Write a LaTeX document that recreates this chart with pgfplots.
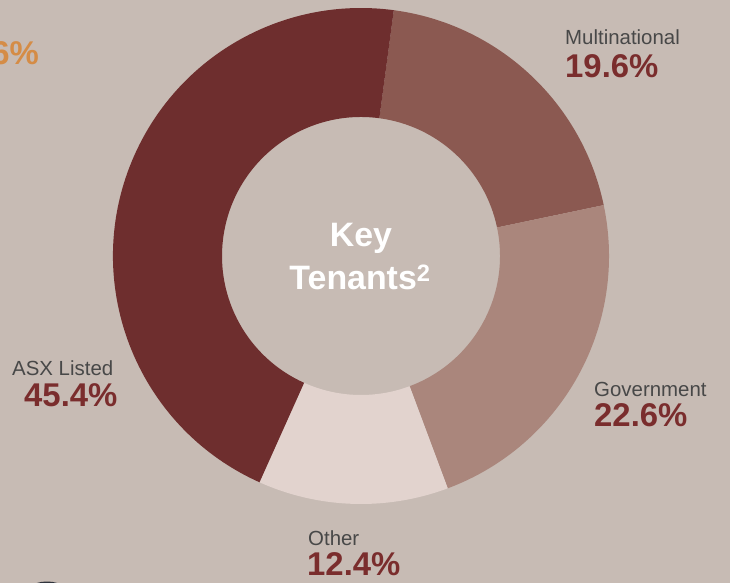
\documentclass[border=0pt]{standalone}
\usepackage{pgfplots}
\pgfplotsset{compat=1.18}
\usetikzlibrary{calc}
\usepackage{fontspec}
\setmainfont{Liberation Sans}

\definecolor{bg}{RGB}{199,187,180}
\definecolor{asx}{RGB}{110,46,46}
\definecolor{multi}{RGB}{139,89,81}
\definecolor{gov}{RGB}{170,134,124}
\definecolor{other}{RGB}{226,211,206}
\definecolor{lbl}{RGB}{72,72,72}
\definecolor{pct}{RGB}{122,45,45}
\definecolor{orng}{RGB}{213,140,70}
\definecolor{edge}{RGB}{48,52,60}

% shares in per cent, clockwise from the top
\def\pMulti{19.6}
\def\pGov{22.6}
\def\pOther{12.4}
\def\pAsx{45.4}

\newcommand{\lab}[1]{\fontsize{20.5}{24}\selectfont\color{lbl}#1}
\newcommand{\num}[1]{\fontsize{33}{38}\selectfont\bfseries\color{pct}#1}

\begin{document}
\begin{tikzpicture}
\fill[bg] (0,0) rectangle (730bp,583bp);

% cumulative angles (maths convention, going clockwise)
\pgfmathsetmacro{\aA}{90-7.6}
\pgfmathsetmacro{\aB}{\aA-3.6*\pMulti}
\pgfmathsetmacro{\aC}{\aB-3.6*\pGov}
\pgfmathsetmacro{\aD}{\aC-3.6*\pOther}
\pgfmathsetmacro{\aE}{\aD-3.6*\pAsx}
\def\R{248bp}
\def\r{139bp}

\begin{axis}[
    scale only axis,
    width=730bp, height=583bp,
    xmin=0, xmax=730, ymin=0, ymax=583,
    hide axis, clip=false,
]
\fill[multi] (axis cs:361,327) ++(\aA:\R) arc[start angle=\aA, end angle=\aB, radius=\R]
    -- ($(axis cs:361,327)+(\aB:\r)$) arc[start angle=\aB, end angle=\aA, radius=\r] -- cycle;
\fill[gov] (axis cs:361,327) ++(\aB:\R) arc[start angle=\aB, end angle=\aC, radius=\R]
    -- ($(axis cs:361,327)+(\aC:\r)$) arc[start angle=\aC, end angle=\aB, radius=\r] -- cycle;
\fill[other] (axis cs:361,327) ++(\aC:\R) arc[start angle=\aC, end angle=\aD, radius=\R]
    -- ($(axis cs:361,327)+(\aD:\r)$) arc[start angle=\aD, end angle=\aC, radius=\r] -- cycle;
\fill[asx] (axis cs:361,327) ++(\aD:\R) arc[start angle=\aD, end angle=\aE, radius=\R]
    -- ($(axis cs:361,327)+(\aE:\r)$) arc[start angle=\aE, end angle=\aD, radius=\r] -- cycle;

% centre title
\node[anchor=base, text=white, font=\fontsize{34}{40}\selectfont\bfseries, inner sep=0]
    at (axis cs:361,336) {Key};
\node[anchor=base, text=white, font=\fontsize{34}{40}\selectfont\bfseries, inner sep=0]
    at (axis cs:360,293) {Tenants\textsuperscript{2}};

% labels
\node[anchor=base west, inner sep=0] at (axis cs:565,538) {\lab{Multinational}};
\node[anchor=base west, inner sep=0] at (axis cs:565,505) {\num{19.6\%}};
\node[anchor=base west, inner sep=0] at (axis cs:594,186) {\lab{Government}};
\node[anchor=base west, inner sep=0] at (axis cs:594,156) {\num{22.6\%}};
\node[anchor=base west, inner sep=0] at (axis cs:308,38) {\lab{Other}};
\node[anchor=base west, inner sep=0] at (axis cs:307,8) {\num{12.4\%}};
\node[anchor=base west, inner sep=0] at (axis cs:12,207) {\lab{ASX Listed}};
\node[anchor=base west, inner sep=0] at (axis cs:24,176) {\num{45.4\%}};

% cut-off pieces from the neighbouring panel
\node[anchor=base east, inner sep=0, font=\fontsize{33}{38}\selectfont\bfseries, text=orng]
    at (axis cs:39,518) {6\%};
\fill[edge] (axis cs:47,-17) ellipse[x radius=26, y radius=18.5];
\end{axis}
\pgfresetboundingbox
\useasboundingbox (0,0) rectangle (730bp,583bp);
\end{tikzpicture}
\end{document}
